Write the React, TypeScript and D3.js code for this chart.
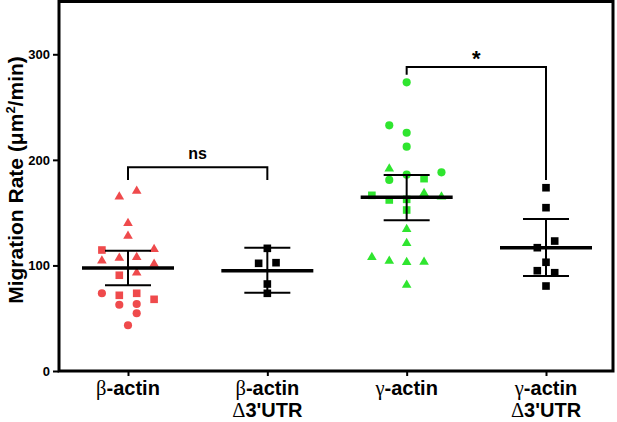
import { useRef, useEffect } from "react";
import * as d3 from "d3";

type Pt = [number, number]; // [value, lane]

const categories = ["β-actin", "β-actin\nΔ3'UTR", "γ-actin", "γ-actin\nΔ3'UTR"];
const yTicks = [0, 100, 200, 300];

// beta-actin (red)
const betaTriangles: Pt[] = [
    [165.1, -1], [170.5, 1], [139.9, 0], [127.9, 0], [115.3, 3],
    [104.5, -3], [107, -1], [107.7, 1], [101.4, 3], [93.1, 1],
];
const betaSquares: Pt[] = [[114.6, -3], [90.7, -1], [71.7, -1], [73.6, 1], [67.9, 3]];
const betaCircles: Pt[] = [[73.6, -3], [62.8, -1], [63.5, 1], [54.7, 1], [43.3, 0]];

// beta-actin delta 3'UTR (black)
const betaUtrSquares: Pt[] = [[116.2, 0], [102, -1], [102.6, 1], [82.4, 0], [73.6, 0]];

// gamma-actin (green)
const gammaCircles: Pt[] = [
    [273.4, 0], [232.7, -2], [225.7, 0], [212.5, 0], [186, 0], [181, -2], [188.2, 4],
];
const gammaSquares: Pt[] = [[182.2, 2], [166.4, -4], [162, -2], [162.6, 0], [152.5, 0]];
const gammaTriangles: Pt[] = [
    [191.6, -2], [168.3, 2], [165.1, 4], [134.2, 0], [121, 0],
    [107.7, -4], [104.2, -2], [103, 0], [103.2, 2], [81.5, 0],
];

// gamma-actin delta 3'UTR (black)
const gammaUtrSquares: Pt[] = [
    [173.6, 0], [154.7, 0], [123.1, 1], [116.8, -1], [103, 0], [95, -1], [93.1, 1], [80.5, 0],
];

const means = [97.6, 95, 164.5, 116.8];
const upper = [114, 116.8, 185.7, 144];
const lower = [81.2, 74.2, 142.7, 90];

// [from index, to index, top, left leg end, right leg end, label]
const brackets: [number, number, number, number, number, string][] = [
    [0, 1, 193, 181, 181, "ns"],
    [2, 3, 288, 280.5, 181, "*"],
];

const RED = "#ef4a4c";
const GREEN = "#2fe52f";
const SANS = "'Liberation Sans', Arial, sans-serif";
const SERIF = "'Liberation Serif', 'DejaVu Serif', serif";

const App = () => {
    const svgRef = useRef<SVGSVGElement>(null);

    useEffect(() => {
        if (!svgRef.current) return;
        const svg = d3.select(svgRef.current);
        svg.selectAll("*").remove();

        const width = 617;
        const height = 422;
        const lane = 8.7;

        const x = d3.scalePoint<string>().domain(categories).range([128, 546]);
        const y = d3.scaleLinear().domain([0, 350]).range([371, 1.5]);

        const groups: { cat: number; pts: Pt[]; shape: d3.SymbolType; size: number; color: string }[] = [
            { cat: 0, pts: betaTriangles, shape: d3.symbolTriangle, size: 40, color: RED },
            { cat: 0, pts: betaSquares, shape: d3.symbolSquare, size: 58, color: RED },
            { cat: 0, pts: betaCircles, shape: d3.symbolCircle, size: 52, color: RED },
            { cat: 1, pts: betaUtrSquares, shape: d3.symbolSquare, size: 58, color: "#000" },
            { cat: 2, pts: gammaCircles, shape: d3.symbolCircle, size: 52, color: GREEN },
            { cat: 2, pts: gammaSquares, shape: d3.symbolSquare, size: 58, color: GREEN },
            { cat: 2, pts: gammaTriangles, shape: d3.symbolTriangle, size: 40, color: GREEN },
            { cat: 3, pts: gammaUtrSquares, shape: d3.symbolSquare, size: 58, color: "#000" },
        ];

        groups.forEach((g) => {
            const cx = x(categories[g.cat])!;
            svg.append("g")
                .selectAll("path")
                .data(g.pts)
                .enter()
                .append("path")
                .attr("d", d3.symbol(g.shape, g.size)()!)
                .attr("transform", (d) => `translate(${cx + d[1] * lane}, ${y(d[0])})`)
                .attr("fill", g.color);
        });

        // mean and SEM bars
        const stats = svg.append("g").attr("stroke", "#000").attr("fill", "none");
        categories.forEach((c, i) => {
            const cx = x(c)!;
            stats.append("line")
                .attr("x1", cx - 46).attr("x2", cx + 46)
                .attr("y1", y(means[i])).attr("y2", y(means[i]))
                .attr("stroke-width", 3.5);
            stats.append("line")
                .attr("x1", cx).attr("x2", cx)
                .attr("y1", y(upper[i])).attr("y2", y(lower[i]))
                .attr("stroke-width", 2);
            [upper[i], lower[i]].forEach((v) => {
                stats.append("line")
                    .attr("x1", cx - 23).attr("x2", cx + 23)
                    .attr("y1", y(v)).attr("y2", y(v))
                    .attr("stroke-width", 2);
            });
        });

        // significance brackets
        brackets.forEach(([a, b, top, lEnd, rEnd, label]) => {
            const x1 = x(categories[a])!;
            const x2 = x(categories[b])!;
            svg.append("path")
                .attr("d", `M${x1},${y(lEnd)}V${y(top)}H${x2}V${y(rEnd)}`)
                .attr("fill", "none")
                .attr("stroke", "#000")
                .attr("stroke-width", 2);
            svg.append("text")
                .attr("x", (x1 + x2) / 2)
                .attr("y", label === "*" ? y(top) - 0.5 : y(top) - 8.5)
                .attr("text-anchor", "middle")
                .attr("font-family", SANS)
                .attr("font-weight", "bold")
                .attr("font-size", label === "*" ? 22 : 16)
                .text(label);
        });

        // y axis
        const yAxis = svg.append("g")
            .attr("transform", `translate(59, 0)`)
            .call(d3.axisLeft(y).tickValues(yTicks).tickSize(6).tickPadding(3));
        yAxis.select(".domain").remove();
        yAxis.selectAll(".tick line").attr("stroke-width", 2);
        yAxis.selectAll(".tick text")
            .attr("font-family", SANS)
            .attr("font-weight", "bold")
            .attr("font-size", 13)
            .attr("fill", "#000");

        // x axis ticks
        const xAxis = svg.append("g")
            .attr("transform", `translate(0, 371)`)
            .call(d3.axisBottom(x).tickSize(5).tickFormat(() => ""));
        xAxis.select(".domain").remove();
        xAxis.selectAll(".tick line").attr("stroke-width", 2);

        // frame
        svg.append("path")
            .attr("d", `M59,371H613V1.5H59Z`)
            .attr("fill", "none")
            .attr("stroke", "#000")
            .attr("stroke-width", 3);

        // x labels
        categories.forEach((c) => {
            const lines = c.split("\n");
            const t = svg.append("text")
                .attr("text-anchor", "middle")
                .attr("font-family", SANS)
                .attr("font-weight", "bold")
                .attr("font-size", 20);
            lines.forEach((ln, li) => {
                const greek = ln.charAt(0);
                const row = t.append("tspan")
                    .attr("x", x(c)!)
                    .attr("y", li === 0 ? 395 : 417);
                row.append("tspan")
                    .attr("font-family", SERIF)
                    .attr("font-weight", "normal")
                    .attr("font-size", 20.5)
                    .text(greek);
                row.append("tspan").text(ln.slice(1));
            });
        });

        // y title
        const title = svg.append("text")
            .attr("transform", `translate(23, 180) rotate(-90)`)
            .attr("text-anchor", "middle")
            .attr("font-family", SANS)
            .attr("font-weight", "bold")
            .attr("font-size", 21);
        title.append("tspan").text("Migration Rate (μm");
        title.append("tspan").attr("font-size", 13).attr("dy", -8).text("2");
        title.append("tspan").attr("dy", 8).text("/min)");

        svg.attr("width", width).attr("height", height);
    }, []);

    return (
        <svg
            ref={svgRef}
            style={{ position: "absolute", left: 0, top: 0, background: "#fff" }}
        />
    );
};

export default App;
